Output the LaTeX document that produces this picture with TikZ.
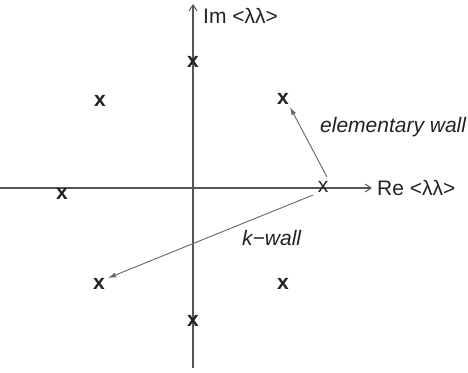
\documentclass[tikz,border=0pt]{standalone}
\usepackage{fontspec}
\setmainfont{Liberation Sans}
\usetikzlibrary{arrows.meta}
\definecolor{axisgray}{HTML}{555555}
\definecolor{wallgray}{HTML}{666666}
\definecolor{inkc}{HTML}{222222}
\tikzset{
  axisline/.style={draw=axisgray, line width=1.2bp, -{Straight Barb[length=6bp,width=8bp,line width=1bp]}},
  wallarrow/.style={draw=wallgray, line width=0.9bp, -{Latex[length=8bp,width=5bp]}},
  xmark/.style={inner sep=0pt, text=inkc, font=\fontsize{21bp}{24bp}\selectfont\bfseries},
  thinxmark/.style={inner sep=0pt, text=inkc, font=\fontsize{21bp}{24bp}\selectfont},
  lbl/.style={inner sep=0pt, text=inkc, font=\fontsize{21bp}{24bp}\selectfont},
  ilbl/.style={inner sep=0pt, text=inkc, font=\fontsize{21bp}{24bp}\selectfont\itshape},
}
\begin{document}
\begin{tikzpicture}[x=1bp,y=-1bp]
\useasboundingbox (0,0) rectangle (468,372);
% axes
\coordinate (hstart) at (0,188);
\coordinate (hend) at (372,188);
\coordinate (vstart) at (193,368);
\coordinate (vend) at (193,4);
\draw[axisline] (hstart) -- (hend);
\draw[axisline] (vstart) -- (vend);
% axis labels
\node[lbl, anchor=west] (re) at (377,188) {Re <λλ>};
\node[lbl, anchor=west] (im) at (203,16) {Im <λλ>};
% marks
\node[xmark] (m1) at (193,62) {x};
\node[xmark] (m2) at (100,101) {x};
\node[xmark] (m3) at (283,99) {x};
\node[xmark] (m4) at (62,194) {x};
\node[xmark] (m5) at (99,284) {x};
\node[xmark] (m6) at (283,284) {x};
\node[xmark] (m7) at (193,321) {x};
\node[thinxmark] (m0) at (323,187) {x};
% walls
\coordinate (ew0) at (327,177);
\coordinate (ew1) at (290,107);
\coordinate (kw0) at (313,195);
\coordinate (kw1) at (108,278);
\draw[wallarrow] (ew0) -- (ew1);
\draw[wallarrow] (kw0) -- (kw1);
\node[ilbl, anchor=west] (ew) at (320,127) {elementary wall};
\node[ilbl, anchor=west] (kw) at (242,238) {k−wall};
\end{tikzpicture}
\end{document}
